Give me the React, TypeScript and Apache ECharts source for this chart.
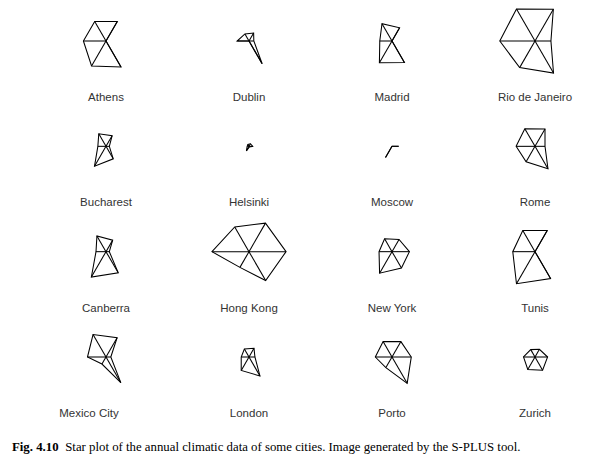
import React, { useEffect, useRef } from "react";
import * as echarts from "echarts";

// Cities, laid out row by row in a 4 x 4 grid
const cities = [
  "Athens", "Dublin", "Madrid", "Rio de Janeiro",
  "Bucharest", "Helsinki", "Moscow", "Rome",
  "Canberra", "Hong Kong", "New York", "Tunis",
  "Mexico City", "London", "Porto", "Zurich",
];

// Grid positions (column, row) of each star
const columns = [0, 1, 2, 3, 0, 1, 2, 3, 0, 1, 2, 3, 0, 1, 2, 3];
const rows = [0, 0, 0, 0, 1, 1, 1, 1, 2, 2, 2, 2, 3, 3, 3, 3];

// Six climatic variables per city, scaled to [0, 1];
// rays at 0°, 60°, 120°, 180°, 240°, 300° (counter-clockwise from the right)
const starValues = [
  [0.0, 0.61, 0.61, 0.61, 0.78, 0.81], // Athens
  [0.13, 0.25, 0.22, 0.32, 0.0, 0.71], // Dublin
  [0.0, 0.41, 0.54, 0.33, 0.68, 0.67], // Madrid
  [0.43, 0.99, 1.0, 0.95, 0.83, 1.0], // Rio de Janeiro
  [0.09, 0.33, 0.39, 0.22, 0.62, 0.39], // Bucharest
  [0.1, 0.08, 0.06, 0.05, 0.14, 0.02], // Helsinki
  [0.18, 0.0, 0.0, 0.0, 0.35, 0.0], // Moscow
  [0.27, 0.54, 0.55, 0.51, 0.48, 0.7], // Rome
  [0.09, 0.36, 0.49, 0.27, 0.79, 0.66], // Canberra
  [1.0, 0.89, 0.77, 1.0, 0.49, 0.9], // Hong Kong
  [0.47, 0.38, 0.4, 0.35, 0.67, 0.51], // New York
  [0.0, 0.66, 0.66, 0.6, 1.0, 0.84], // Tunis
  [0.13, 0.6, 0.7, 0.5, 0.22, 0.8], // Mexico City
  [0.16, 0.27, 0.25, 0.21, 0.42, 0.59], // London
  [0.52, 0.48, 0.48, 0.45, 0.33, 0.82], // Porto
  [0.34, 0.24, 0.23, 0.31, 0.39, 0.41], // Zurich
];

const captionBold = "Fig. 4.10";
const captionText =
  "Star plot of the annual climatic data of some cities. Image generated by the S-PLUS tool.";

export default function App() {
  const ref = useRef<HTMLDivElement>(null);

  useEffect(() => {
    if (!ref.current) return;
    const chart = echarts.init(ref.current, undefined, { renderer: "svg" });

    const data = cities.map((name, i) => ({
      name,
      value: [columns[i], rows[i], ...starValues[i]],
    }));

    const option: any = {
      animation: false,
      backgroundColor: "#ffffff",
      grid: { left: 106, right: 81, top: 41, bottom: 113, containLabel: false },
      xAxis: { type: "value", min: 0, max: 3, show: false },
      yAxis: { type: "value", min: 0, max: 3, inverse: true, show: false },
      series: [
        {
          type: "custom",
          coordinateSystem: "cartesian2d",
          encode: { x: 0, y: 1 },
          clip: false,
          data,
          renderItem: (params: any, api: any) => {
            const idx = params.dataIndex;
            const c = api.coord([api.value(0), api.value(1)]);
            const R = api.size([1, 0])[0] * 0.259;
            const pts: number[][] = [];
            for (let k = 0; k < 6; k++) {
              const v = api.value(2 + k) as number;
              const a = (k * Math.PI) / 3;
              pts.push([c[0] + v * R * Math.cos(a), c[1] - v * R * Math.sin(a)]);
            }
            const lineStyle = { stroke: "#000", lineWidth: 1.05, fill: null };
            const children: any[] = [
              { type: "polygon", shape: { points: pts }, style: { ...lineStyle, fill: "none" } },
            ];
            pts.forEach((p) => {
              children.push({
                type: "line",
                shape: { x1: c[0], y1: c[1], x2: p[0], y2: p[1] },
                style: lineStyle,
              });
            });
            const nudge = cities[idx] === "Mexico City" ? -17 : 0;
            children.push({
              type: "text",
              x: c[0] + nudge,
              y: c[1] + 56,
              style: {
                text: cities[idx],
                fontFamily: "Liberation Sans, Arial, sans-serif",
                fontSize: 11.5,
                fill: "#333",
                align: "center",
                verticalAlign: "middle",
              },
            });
            return { type: "group", children };
          },
        },
      ],
      graphic: [
        {
          type: "text",
          left: 12,
          top: 440,
          style: {
            text: `{b|${captionBold}}  {n|${captionText}}`,
            rich: {
              b: { fontFamily: "Liberation Serif, Times New Roman, serif", fontWeight: "bold", fontSize: 12.8, fill: "#000" },
              n: { fontFamily: "Liberation Serif, Times New Roman, serif", fontSize: 12.8, fill: "#000" },
            },
          },
        },
      ],
    };

    chart.setOption(option);
    return () => chart.dispose();
  }, []);

  return (
    <div
      ref={ref}
      style={{ position: "fixed", left: 0, top: 0, width: 616, height: 470, background: "#fff" }}
    />
  );
}
